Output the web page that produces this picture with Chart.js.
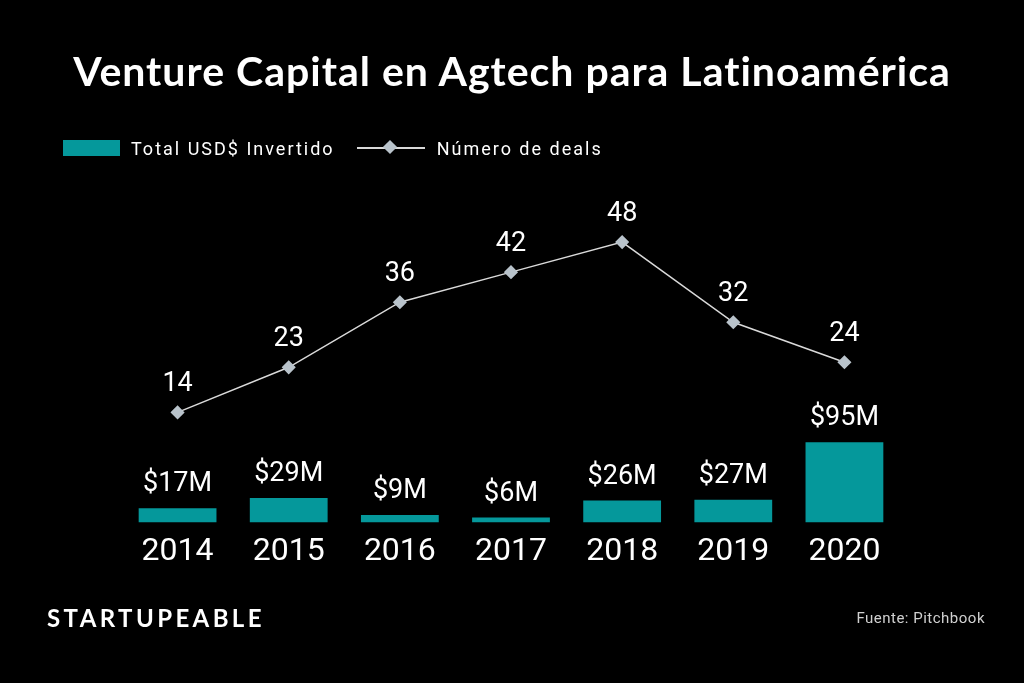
<!DOCTYPE html>
<html>
<head>
<meta charset="utf-8">
<script src="https://cdn.jsdelivr.net/npm/chart.js@4"></script>
<style>
  html, body { margin: 0; padding: 0; background: #000; }
  #wrap { position: relative; width: 1024px; height: 683px; background: #000; overflow: hidden; }
  #chart { position: absolute; left: 0; top: 0; }
  .title { position: absolute; left: 0; width: 1024px; top: 46px; text-align: center;
           color: #fff; font: bold 41px Lato, sans-serif; letter-spacing: 1px; }
  .legend { position: absolute; top: 136px; left: 63px; height: 24px; display: flex; align-items: center;
            color: #fff; font: 18px Roboto, sans-serif; letter-spacing: 2px; }
  .swatch { width: 57px; height: 16px; background: #05989b; margin-right: 11px; }
  .lineKey { position: relative; width: 68px; height: 2px; background: #d9d9d9; margin: 0 12px 0 22px; }
  .lineKey::after { content: ""; position: absolute; left: 28px; top: -5px; width: 10px; height: 10px;
                    background: #b9c3cb; transform: rotate(45deg); }
  .brand { position: absolute; left: 47px; top: 603px; color: #fff; font: bold 24px Lato, sans-serif; letter-spacing: 3.4px; }
  .source { position: absolute; right: 39px; top: 609px; color: #d0d0d0; font: 15px Roboto, sans-serif; letter-spacing: 0.5px; }
</style>
</head>
<body>
<div id="wrap">
  <canvas id="chart" width="1024" height="683"></canvas>
  <div class="title">Venture Capital en Agtech para Latinoamérica</div>
  <div class="legend">
    <div class="swatch"></div><span>Total USD$ Invertido</span>
    <div class="lineKey"></div><span>Número de deals</span>
  </div>
  <div class="brand">STARTUPEABLE</div>
  <div class="source">Fuente: Pitchbook</div>
</div>
<script>
// Data
const years = ['2014', '2015', '2016', '2017', '2018', '2019', '2020'];
const invested = [17, 29, 9, 6, 26, 27, 95];   // millones USD
const deals = [14, 23, 36, 42, 48, 32, 24];

// Draw the value labels above bars and points
const valueLabels = {
    id: 'valueLabels',
    afterDatasetsDraw(chart) {
        const ctx = chart.ctx;
        ctx.save();
        ctx.fillStyle = '#fff';
        ctx.font = '27px Roboto, sans-serif';
        ctx.textAlign = 'center';
        ctx.textBaseline = 'alphabetic';
        chart.getDatasetMeta(0).data.forEach((el, i) => {
            ctx.fillText('$' + invested[i] + 'M', el.x, el.y - 17);
        });
        chart.getDatasetMeta(1).data.forEach((el, i) => {
            ctx.fillText(String(deals[i]), el.x, el.y - 21);
        });
        ctx.restore();
    }
};

const ctx = document.getElementById('chart').getContext('2d');
const chart = new Chart(ctx, {
    data: {
        labels: years,
        datasets: [
            {
                type: 'bar',
                label: 'Total USD$ Invertido',
                data: invested,
                backgroundColor: '#05989b',
                barPercentage: 0.7,
                categoryPercentage: 1.0,
                yAxisID: 'y',
                order: 2
            },
            {
                type: 'line',
                label: 'Número de deals',
                data: deals,
                borderColor: '#d9d9d9',
                borderWidth: 1.5,
                pointStyle: 'rectRot',
                pointRadius: 6,
                pointBackgroundColor: '#b9c3cb',
                pointBorderColor: '#b9c3cb',
                tension: 0,
                yAxisID: 'y1',
                order: 1
            }
        ]
    },
    options: {
        responsive: false,
        animation: false,
        layout: { padding: { left: 122, right: 124, top: 190, bottom: 110 } },
        plugins: {
            legend: { display: false },
            tooltip: { enabled: false }
        },
        scales: {
            x: {
                grid: { display: false },
                border: { display: false },
                ticks: { color: '#fff', font: { family: 'Roboto', size: 32 }, padding: 2 }
            },
            y: { display: false, min: 0, max: 393 },
            y1: { display: false, min: -8, max: 58.4 }
        }
    },
    plugins: [valueLabels]
});
</script>
</body>
</html>
